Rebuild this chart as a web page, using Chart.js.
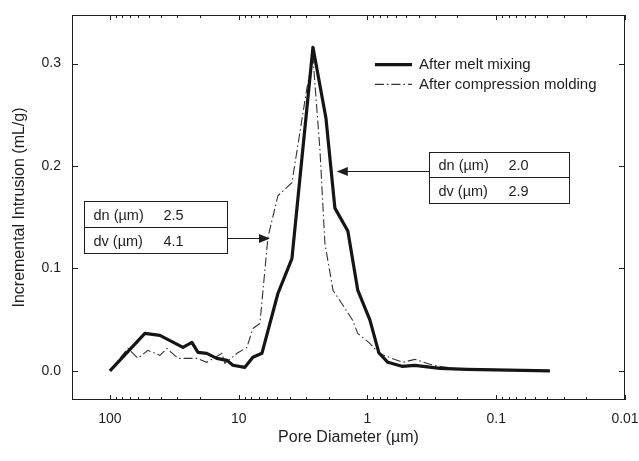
<!DOCTYPE html>
<html>
<head>
<meta charset="utf-8">
<script src="https://cdn.jsdelivr.net/npm/chart.js@4.4.1/dist/chart.umd.min.js"></script>
<style>
  body { margin: 0; background: #fff; }
</style>
</head>
<body>
<canvas id="poreChart" width="639" height="461"></canvas>
<script>
// pore diameter (um) and incremental intrusion (mL/g)
const meltDiam = [100, 53.5, 40.9, 27.1, 23.1, 20.7, 17.7, 14.8, 12.3, 11.1, 8.95, 7.76, 6.6, 4.96, 3.86, 2.65, 2.1, 1.79, 1.42, 1.19, 0.958, 0.815, 0.694, 0.54, 0.428, 0.273, 0.169, 0.0383];
const meltVal = [0, 0.0365, 0.0346, 0.0229, 0.0278, 0.018, 0.017, 0.0122, 0.0102, 0.0054, 0.0034, 0.0132, 0.0171, 0.0755, 0.1096, 0.316, 0.2466, 0.1589, 0.1365, 0.0789, 0.0497, 0.0175, 0.0083, 0.0044, 0.0054, 0.0024, 0.0015, 0];
const moldDiam = [100, 72.4, 60.6, 50.7, 40.9, 36.1, 29.6, 21.1, 17.7, 13.5, 12.8, 10.3, 8.63, 7.76, 6.84, 5.93, 4.96, 3.86, 2.95, 2.65, 2.34, 2.14, 1.85, 1.64, 1.3, 1.19, 0.958, 0.815, 0.646, 0.53, 0.428, 0.31, 0.217, 0.0383];
const moldVal = [0, 0.0219, 0.0122, 0.02, 0.0151, 0.0219, 0.0122, 0.0122, 0.0083, 0.0171, 0.0073, 0.0171, 0.0229, 0.0414, 0.0463, 0.1301, 0.171, 0.1837, 0.2763, 0.3056, 0.2164, 0.1243, 0.0785, 0.0687, 0.0492, 0.0365, 0.0268, 0.0171, 0.0122, 0.0083, 0.0112, 0.0054, 0.0024, 0];

const seriesNames = ["After melt mixing", "After compression molding"];
const xTickVals = [100, 10, 1, 0.1, 0.01];
const yTickVals = [0, 0.1, 0.2, 0.3];
const boxNames = ["dn (\u00b5m)", "dv (\u00b5m)"];
const moldBoxVals = ["2.5", "4.1"];
const meltBoxVals = ["2.0", "2.9"];

const FONT = "'Liberation Sans', Arial, Helvetica, sans-serif";
const INK = "#1e1e1e";

function toPoints(xs, ys) {
  return xs.map((d, i) => ({ x: d, y: ys[i] }));
}

// note boxes placed in data units (diameter, intrusion)
const notes = [
  { left: 159, right: 12.3, top: 0.1657, mid: 0.1404, bottom: 0.115, vals: moldBoxVals, arrowFrom: "right", arrowY: 0.1296, tip: 5.71 },
  { left: 0.333, right: 0.0272, top: 0.2135, mid: 0.189, bottom: 0.1637, vals: meltBoxVals, arrowFrom: "left", arrowY: 0.195, tip: 1.73 },
];
const legendSpot = { lineFrom: 0.875, lineTo: 0.451, text: 0.398, rows: [0.299, 0.2797] };

function seg(ctx, x1, y1, x2, y2) {
  ctx.beginPath(); ctx.moveTo(x1, y1); ctx.lineTo(x2, y2); ctx.stroke();
}

const decorations = {
  id: "decorations",
  afterDraw(chart) {
    const { ctx, chartArea: a, scales: { x, y } } = chart;
    ctx.save();
    ctx.strokeStyle = INK;
    ctx.fillStyle = INK;
    ctx.lineWidth = 1;
    ctx.setLineDash([]);
    // frame
    ctx.strokeRect(a.left + 0.5, a.top + 0.5, a.right - a.left - 1, a.bottom - a.top - 1);

    // inward ticks on the log axis, bottom and top
    for (let e = -2; e <= 2; e++) {
      for (let m = 1; m <= 9; m++) {
        const v = m * Math.pow(10, e);
        if (v < 0.01 || v > x.max) continue;
        const px = Math.round(x.getPixelForValue(v)) + 0.5;
        const len = m === 1 ? 5 : 3;
        seg(ctx, px, a.bottom, px, a.bottom - len);
        seg(ctx, px, a.top, px, a.top + len);
      }
    }
    // y ticks left and right
    yTickVals.forEach((v) => {
      const py = Math.round(y.getPixelForValue(v)) + 0.5;
      seg(ctx, a.left, py, a.left + 6, py);
      seg(ctx, a.right, py, a.right - 6, py);
    });

    // legend
    const ds = chart.data.datasets;
    ctx.font = "15px " + FONT;
    ctx.textBaseline = "middle";
    ctx.textAlign = "left";
    ds.forEach((d, i) => {
      const py = y.getPixelForValue(legendSpot.rows[i]);
      ctx.save();
      ctx.strokeStyle = d.borderColor;
      ctx.lineWidth = d.borderWidth;
      ctx.setLineDash(d.borderDash || []);
      seg(ctx, x.getPixelForValue(legendSpot.lineFrom), py, x.getPixelForValue(legendSpot.lineTo), py);
      ctx.restore();
      ctx.fillText(d.label, x.getPixelForValue(legendSpot.text), py);
    });

    // note boxes with arrows
    ctx.font = "14.5px " + FONT;
    notes.forEach((n) => {
      const l = Math.round(x.getPixelForValue(n.left)) + 0.5;
      const r = Math.round(x.getPixelForValue(n.right)) + 0.5;
      const t = Math.round(y.getPixelForValue(n.top)) + 0.5;
      const m = Math.round(y.getPixelForValue(n.mid)) + 0.5;
      const b = Math.round(y.getPixelForValue(n.bottom)) + 0.5;
      ctx.fillStyle = "#fff";
      ctx.fillRect(l, t, r - l, b - t);
      ctx.fillStyle = INK;
      ctx.strokeRect(l, t, r - l, b - t);
      seg(ctx, l, m, r, m);
      [[t, m], [m, b]].forEach(([y1, y2], k) => {
        const cy = (y1 + y2) / 2 + 1;
        ctx.fillText(boxNames[k], l + 9, cy);
        ctx.fillText(n.vals[k], l + 79, cy);
      });
      const ay = Math.round(y.getPixelForValue(n.arrowY)) + 0.5;
      const tip = x.getPixelForValue(n.tip);
      const start = n.arrowFrom === "right" ? r : l;
      const dir = tip > start ? 1 : -1;
      seg(ctx, start, ay, tip - dir * 8, ay);
      ctx.beginPath();
      ctx.moveTo(tip, ay);
      ctx.lineTo(tip - dir * 11, ay - 4.5);
      ctx.lineTo(tip - dir * 11, ay + 4.5);
      ctx.closePath();
      ctx.fill();
    });
    ctx.restore();
  },
};

new Chart(document.getElementById("poreChart"), {
  type: "line",
  data: {
    datasets: [
      {
        label: seriesNames[0],
        data: toPoints(meltDiam, meltVal),
        borderColor: "#151515",
        borderWidth: 3.2,
        pointRadius: 0,
        tension: 0,
        borderJoinStyle: "round",
      },
      {
        label: seriesNames[1],
        data: toPoints(moldDiam, moldVal),
        borderColor: "#333",
        borderWidth: 1.1,
        borderDash: [9, 3, 1.5, 3],
        pointRadius: 0,
        tension: 0,
      },
    ],
  },
  options: {
    responsive: false,
    animation: false,
    devicePixelRatio: 1,
    layout: { padding: { top: 15, right: 14, left: 0, bottom: 0 } },
    plugins: { legend: { display: false }, tooltip: { enabled: false } },
    scales: {
      x: {
        type: "logarithmic",
        reverse: true,
        min: 0.01,
        max: 197,
        afterBuildTicks: (s) => { s.ticks = xTickVals.map((v) => ({ value: v })); },
        afterFit: (s) => { s.height = 61; s.paddingLeft = 0; s.paddingRight = 0; },
        grid: { display: false, drawTicks: false },
        border: { display: false },
        ticks: {
          autoSkip: false,
          maxRotation: 0,
          padding: 11,
          color: INK,
          font: { family: FONT, size: 14 },
          callback: (v) => String(v),
        },
        title: {
          display: true,
          text: "Pore Diameter (\u00b5m)",
          color: INK,
          font: { family: FONT, size: 16 },
          padding: { top: 0, bottom: 14 },
        },
      },
      y: {
        min: -0.0285,
        max: 0.3475,
        afterBuildTicks: (s) => { s.ticks = yTickVals.map((v) => ({ value: v })); },
        afterFit: (s) => { s.width = 72; s.paddingTop = 0; s.paddingBottom = 0; },
        grid: { display: false, drawTicks: false },
        border: { display: false },
        ticks: {
          padding: 11,
          color: INK,
          font: { family: FONT, size: 14 },
          callback: (v) => v.toFixed(1),
        },
        title: {
          display: true,
          text: "Incremental Intrusion (mL/g)",
          color: INK,
          font: { family: FONT, size: 16 },
          padding: { top: 10, bottom: 0 },
        },
      },
    },
  },
  plugins: [decorations],
});
</script>
</body>
</html>
